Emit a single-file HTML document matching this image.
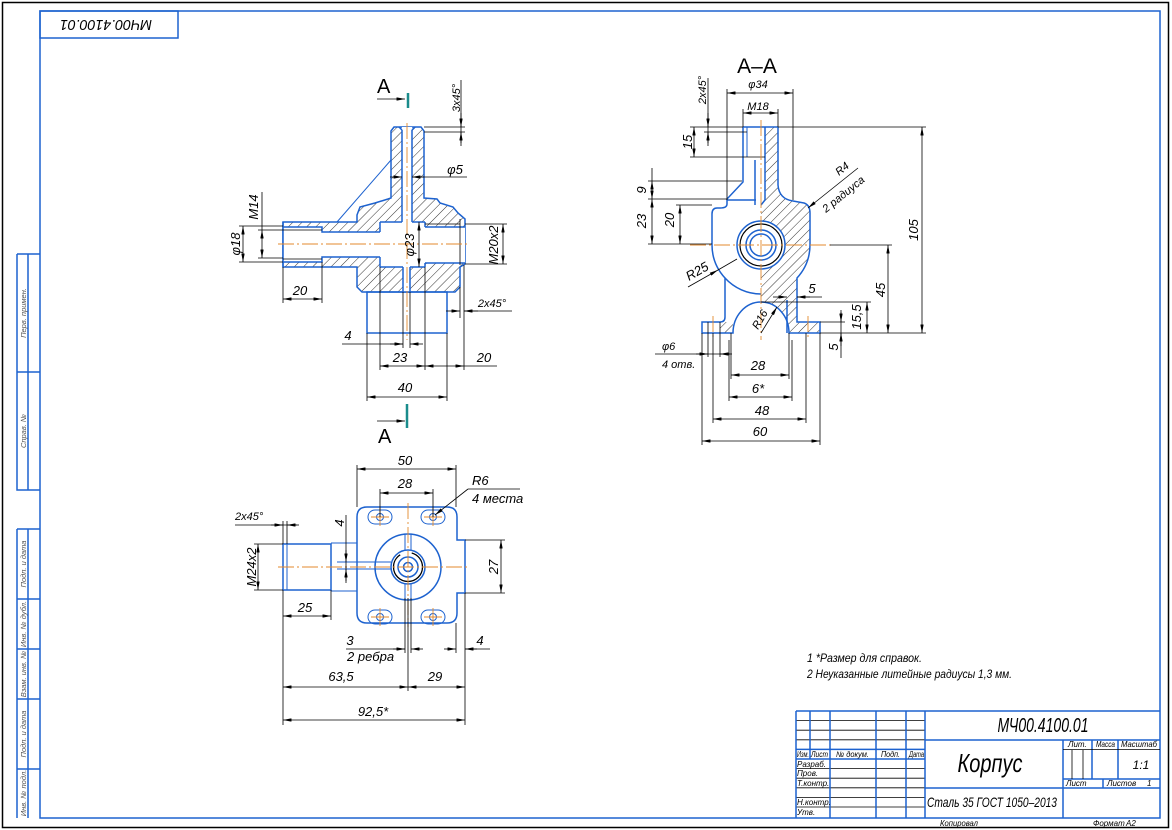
<!DOCTYPE html>
<html><head><meta charset="utf-8">
<style>
html,body{margin:0;padding:0;background:#fff;}
svg{display:block;}
.o{fill:none;stroke:#1d62cf;stroke-width:1.5;}
.ot{fill:none;stroke:#1d62cf;stroke-width:1;}
.d{fill:none;stroke:#000;stroke-width:0.8;}
.c{fill:none;stroke:#e3892d;stroke-width:0.9;stroke-dasharray:16 3 2 3;}
text{font-family:"Liberation Sans",sans-serif;font-style:italic;fill:#000;}
.up{font-style:normal;}
.t{font-size:13px;}
.s{font-size:11px;}
.x{font-size:8px;}
.g{font-size:7.5px;fill:#555;}
</style></head><body>
<svg width="1172" height="830" viewBox="0 0 1172 830" xmlns="http://www.w3.org/2000/svg">
<defs>
<pattern id="h" patternUnits="userSpaceOnUse" width="6.5" height="6.5" patternTransform="rotate(45)"><line x1="0" y1="0" x2="0" y2="6.5" stroke="#000" stroke-width="0.8"/></pattern>
<marker id="ar" viewBox="0 0 10 4" refX="10" refY="2" markerWidth="9" markerHeight="3.4" markerUnits="userSpaceOnUse" orient="auto-start-reverse"><path d="M0,0 L10,2 L0,4 z" fill="#000"/></marker>
</defs>
<rect x="0" y="0" width="1172" height="830" fill="#fff"/>

<!-- Frames -->
<rect x="2.5" y="2.5" width="1166" height="825" fill="none" stroke="#000" stroke-width="1.5"/>
<rect x="40" y="11" width="1120" height="807" class="o"/>
<rect x="40" y="11" width="138" height="27" class="o"/>
<text transform="rotate(180 106 26)" x="106" y="32" text-anchor="middle" font-size="15" textLength="92" lengthAdjust="spacingAndGlyphs">МЧ00.4100.01</text>

<!-- Left strip -->
<path class="o" d="M17,254 H40 M17,254 V490 H40 M28,254 V490 M17,372 H40"/>
<path class="o" d="M17,529 H40 M17,529 V818 M28,529 V818 M17,599 H40 M17,649 H40 M17,699 H40 M17,769 H40"/>
<text class="g" transform="translate(26,313) rotate(-90)" text-anchor="middle">Перв. примен.</text>
<text class="g" transform="translate(26,431) rotate(-90)" text-anchor="middle">Справ. №</text>
<text class="g" transform="translate(26,564) rotate(-90)" text-anchor="middle">Подп. и дата</text>
<text class="g" transform="translate(26,624) rotate(-90)" text-anchor="middle">Инв. № дубл.</text>
<text class="g" transform="translate(26,674) rotate(-90)" text-anchor="middle">Взам. инв. №</text>
<text class="g" transform="translate(26,734) rotate(-90)" text-anchor="middle">Подп. и дата</text>
<text class="g" transform="translate(26,793) rotate(-90)" text-anchor="middle">Инв. № подл.</text>

<!-- ================= FRONT VIEW ================= -->
<path d="M391,131 L394,127 L421,127 L424,131 L424,198 L437,199 L440,203 L453,207 L458,213 L465,219 L465,264 L460,267 L460,287 L455,292 L362,292 L357,287 L357,267 L283,267 L283,222 L357,222 L357,215 L360,207 L375,203 L388,199 L391,198 Z" fill="url(#h)" stroke="#1d62cf" stroke-width="1.5"/>
<rect x="402" y="127" width="10" height="95" fill="#fff"/>
<rect x="380" y="222" width="45" height="45" fill="#fff"/>
<rect x="425" y="227" width="40" height="36" fill="#fff"/>
<rect x="283" y="227" width="39" height="35" fill="#fff"/>
<rect x="322" y="232" width="58" height="25" fill="#fff"/>
<rect x="403" y="267" width="7" height="25" fill="#fff"/>
<path class="o" d="M402,130 V222 M412,130 V222 M399,127 L402,130 M415,127 L412,130 M380,222 H402 M412,222 H425 M380,267 H403 M410,267 H425 M380,222 V232 M380,257 V267 M425,222 V227 M425,263 V267 M425,227 H465 M425,263 H465 M283,227 H322 V232 H380 M283,262 H322 V257 H380 M403,267 V292 M410,267 V292 M283,222 V267"/>
<path class="d" d="M283,230 H322 M283,259 H322 M425,224 H460 M460,219 V265"/>
<rect class="o" x="367" y="292" width="80" height="41"/>
<line class="ot" x1="337" y1="222" x2="391" y2="160"/>
<path class="c" d="M278,244 H468 M407,123 V340"/>
<!-- section markers -->
<line x1="408" y1="93" x2="408" y2="108" stroke="#1a8c8c" stroke-width="2.5"/>
<line class="d" x1="377" y1="99" x2="405" y2="99" marker-end="url(#ar)"/>
<text class="up" x="377" y="93" font-size="20">A</text>
<line x1="407" y1="404" x2="407" y2="428" stroke="#1a8c8c" stroke-width="2.5"/>
<line class="d" x1="377" y1="421" x2="405" y2="421" marker-end="url(#ar)"/>
<text class="up" x="378" y="443" font-size="20">A</text>
<!-- dims front -->
<path class="d" d="M424,127 H465 M424,132 H465 M461,80 V143"/>
<line class="d" x1="461" y1="113" x2="461" y2="127" marker-end="url(#ar)"/>
<line class="d" x1="461" y1="146" x2="461" y2="132" marker-end="url(#ar)"/>
<text class="s" transform="translate(460,98) rotate(-90)" text-anchor="middle">3x45°</text>
<path class="d" d="M412,177 H467"/>
<line class="d" x1="390" y1="177" x2="402" y2="177" marker-end="url(#ar)"/>
<line class="d" x1="424" y1="177" x2="412" y2="177" marker-end="url(#ar)"/>
<text class="t" x="455" y="174" text-anchor="middle">φ5</text>
<path class="d" d="M262,192 V230 M258,230 H283 M258,258 H283"/>
<line class="d" x1="262" y1="230" x2="262" y2="258" marker-start="url(#ar)" marker-end="url(#ar)"/>
<text class="t" transform="translate(258,207) rotate(-90)" text-anchor="middle">M14</text>
<path class="d" d="M239,226 H283 M239,262 H283"/>
<line class="d" x1="243" y1="226" x2="243" y2="262" marker-start="url(#ar)" marker-end="url(#ar)"/>
<text class="t" transform="translate(240,244) rotate(-90)" text-anchor="middle">φ18</text>
<path class="d" d="M283,267 V303 M322,262 V303"/>
<line class="d" x1="283" y1="299" x2="322" y2="299" marker-start="url(#ar)" marker-end="url(#ar)"/>
<text class="t" x="300" y="295" text-anchor="middle">20</text>
<line class="d" x1="419" y1="222" x2="419" y2="267" marker-start="url(#ar)" marker-end="url(#ar)"/>
<text class="t" transform="translate(414,245) rotate(-90)" text-anchor="middle">φ23</text>
<path class="d" d="M465,224 H507 M465,264 H507"/>
<line class="d" x1="503" y1="224" x2="503" y2="264" marker-start="url(#ar)" marker-end="url(#ar)"/>
<text class="t" transform="translate(498,245) rotate(-90)" text-anchor="middle">M20x2</text>
<path class="d" d="M460,287 V318 M464,265 V370 M464,311 H512"/>
<line class="d" x1="446" y1="311" x2="460" y2="311" marker-end="url(#ar)"/>
<line class="d" x1="478" y1="311" x2="464" y2="311" marker-end="url(#ar)"/>
<text class="s" x="492" y="307" text-anchor="middle">2x45°</text>
<path class="d" d="M403,292 V348 M410,292 V348 M342,344 H403"/>
<line class="d" x1="390" y1="344" x2="403" y2="344" marker-end="url(#ar)"/>
<line class="d" x1="423" y1="344" x2="410" y2="344" marker-end="url(#ar)"/>
<text class="t" x="348" y="340" text-anchor="middle">4</text>
<path class="d" d="M380,267 V370 M425,267 V370"/>
<line class="d" x1="380" y1="366" x2="425" y2="366" marker-start="url(#ar)" marker-end="url(#ar)"/>
<text class="t" x="400" y="362" text-anchor="middle">23</text>
<line class="d" x1="425" y1="366" x2="464" y2="366" marker-start="url(#ar)" marker-end="url(#ar)"/>
<path class="d" d="M464,366 H497"/>
<text class="t" x="484" y="362" text-anchor="middle">20</text>
<path class="d" d="M367,333 V401 M447,333 V401"/>
<line class="d" x1="367" y1="397" x2="447" y2="397" marker-start="url(#ar)" marker-end="url(#ar)"/>
<text class="t" x="405" y="392" text-anchor="middle">40</text>

<!-- ================= SECTION A-A ================= -->
<text class="up" x="757" y="73" font-size="21" text-anchor="middle">A–A</text>
<path d="M765,127 L778,127 L778,185 Q779,199 793,201 L804,203 Q810,205 810,213 L810,245 A49,49 0 0 1 797,278 L797,322 L820,322 L820,333 L789,333 A28,31 0 0 0 761,302 L761,205 L765,200 Z" fill="url(#h)"/>
<rect x="720" y="322" width="13" height="11" fill="url(#h)"/>
<circle cx="761" cy="245" r="24" fill="#fff"/>
<path class="o" d="M743,127 H778 M743,127 V182 L727,199 V204 Q727,208 720,208 H717 Q712,208 712,214 V245 A49,49 0 0 0 725,278 V317 Q725,322 720,322 H702 V333 H733 A28,31 0 0 1 789,333 H820 V322 H797 V278 A49,49 0 0 0 810,245 V213 Q810,205 804,203 L793,201 Q779,199 778,185 V127"/>
<path class="o" d="M725,278 A49,49 0 0 0 761,294 M765,127 V200 L761,205 M755,160 V205 M727,200 H756 M787,300 V333"/>
<path class="ot" d="M747,127 V157"/>
<path class="d" d="M743,157 H765"/>
<circle cx="761" cy="245" r="24" class="o"/>
<circle cx="761" cy="245" r="21" fill="none" stroke="#000" stroke-width="1.2"/>
<circle cx="761" cy="245" r="15" class="o"/>
<circle cx="761" cy="245" r="11" class="o"/>
<path class="d" d="M708,322 V357 M720,322 V357"/>
<path class="c" d="M761,120 V340 M690,245 H832 M713,316 V338 M808,316 V338"/>
<!-- dims A-A -->
<path class="d" d="M727,89 V200 M793,89 V200"/>
<line class="d" x1="727" y1="93" x2="793" y2="93" marker-start="url(#ar)" marker-end="url(#ar)"/>
<text class="s" x="758" y="88" text-anchor="middle">φ34</text>
<path class="d" d="M743,109 V127 M778,109 V127"/>
<line class="d" x1="743" y1="113" x2="778" y2="113" marker-start="url(#ar)" marker-end="url(#ar)"/>
<text class="s" x="758" y="110" text-anchor="middle">M18</text>
<path class="d" d="M708,78 V143 M704,127 H743 M704,132 H747"/>
<line class="d" x1="708" y1="113" x2="708" y2="127" marker-end="url(#ar)"/>
<line class="d" x1="708" y1="146" x2="708" y2="132" marker-end="url(#ar)"/>
<text class="s" transform="translate(706,90) rotate(-90)" text-anchor="middle">2x45°</text>
<path class="d" d="M690,127 H704 M690,157 H743"/>
<line class="d" x1="694" y1="127" x2="694" y2="157" marker-start="url(#ar)" marker-end="url(#ar)"/>
<text class="t" transform="translate(692,142) rotate(-90)" text-anchor="middle">15</text>
<path class="d" d="M648,181 H742 M648,199 H727 M676,205 H712 M648,244 H712 M652,168 V181"/>
<line class="d" x1="652" y1="181" x2="652" y2="199" marker-start="url(#ar)" marker-end="url(#ar)"/>
<line class="d" x1="652" y1="199" x2="652" y2="244" marker-start="url(#ar)" marker-end="url(#ar)"/>
<text class="t" transform="translate(646,190) rotate(-90)" text-anchor="middle">9</text>
<text class="t" transform="translate(646,221) rotate(-90)" text-anchor="middle">23</text>
<line class="d" x1="680" y1="205" x2="680" y2="244" marker-start="url(#ar)" marker-end="url(#ar)"/>
<text class="t" transform="translate(674,220) rotate(-90)" text-anchor="middle">20</text>
<line class="d" x1="858" y1="168" x2="808" y2="208" marker-end="url(#ar)"/>
<text class="s" transform="translate(839,176) rotate(-39)">R4</text>
<text class="s" transform="translate(826,213) rotate(-39)">2 радиуса</text>
<line class="d" x1="688" y1="287" x2="718" y2="270" marker-end="url(#ar)"/>
<line class="d" x1="718" y1="270" x2="737" y2="259"/>
<text class="t" transform="translate(689,281) rotate(-30)">R25</text>
<line class="d" x1="761" y1="333" x2="777" y2="307" marker-end="url(#ar)"/>
<text class="s" transform="translate(758,330) rotate(-60)">R16</text>
<path class="d" d="M797,297 H822"/>
<line class="d" x1="773" y1="297" x2="787" y2="297" marker-end="url(#ar)"/>
<line class="d" x1="810" y1="297" x2="797" y2="297" marker-end="url(#ar)"/>
<text class="t" x="812" y="293" text-anchor="middle">5</text>
<path class="d" d="M761,302 H871"/>
<line class="d" x1="867" y1="302" x2="867" y2="333" marker-start="url(#ar)" marker-end="url(#ar)"/>
<text class="t" transform="translate(861,317) rotate(-90)" text-anchor="middle">15,5</text>
<path class="d" d="M830,245 H892"/>
<line class="d" x1="888" y1="245" x2="888" y2="333" marker-start="url(#ar)" marker-end="url(#ar)"/>
<text class="t" transform="translate(885,290) rotate(-90)" text-anchor="middle">45</text>
<path class="d" d="M778,127 H926 M820,333 H926"/>
<line class="d" x1="922" y1="127" x2="922" y2="333" marker-start="url(#ar)" marker-end="url(#ar)"/>
<text class="t" transform="translate(918,230) rotate(-90)" text-anchor="middle">105</text>
<path class="d" d="M820,322 H845 M841,312 V358"/>
<line class="d" x1="841" y1="310" x2="841" y2="322" marker-end="url(#ar)"/>
<line class="d" x1="841" y1="346" x2="841" y2="333" marker-end="url(#ar)"/>
<text class="t" transform="translate(838,347) rotate(-90)" text-anchor="middle">5</text>
<path class="d" d="M655,354 H730"/>
<line class="d" x1="696" y1="354" x2="708" y2="354" marker-end="url(#ar)"/>
<line class="d" x1="732" y1="354" x2="720" y2="354" marker-end="url(#ar)"/>
<text class="s" x="662" y="350">φ6</text>
<text class="s" x="662" y="368">4 отв.</text>
<path class="d" d="M731,333 V379 M789,333 V379 M729,340 V401 M792,340 V401 M713,333 V423 M806,333 V423 M702,333 V445 M820,333 V445"/>
<line class="d" x1="731" y1="375" x2="789" y2="375" marker-start="url(#ar)" marker-end="url(#ar)"/>
<text class="t" x="758" y="370" text-anchor="middle">28</text>
<line class="d" x1="729" y1="397" x2="792" y2="397" marker-start="url(#ar)" marker-end="url(#ar)"/>
<text class="t" x="758" y="393" text-anchor="middle">6*</text>
<line class="d" x1="713" y1="419" x2="806" y2="419" marker-start="url(#ar)" marker-end="url(#ar)"/>
<text class="t" x="762" y="415" text-anchor="middle">48</text>
<line class="d" x1="702" y1="441" x2="820" y2="441" marker-start="url(#ar)" marker-end="url(#ar)"/>
<text class="t" x="760" y="436" text-anchor="middle">60</text>

<!-- ================= BOTTOM VIEW ================= -->
<path class="o" d="M367,507 H447 Q457,507 457,517 V540 H465 V593 H457 V613 Q457,623 447,623 H367 Q357,623 357,613 V517 Q357,507 367,507 Z"/>
<rect class="ot" x="368" y="510" width="24" height="14" rx="7"/>
<rect class="ot" x="421" y="510" width="24" height="14" rx="7"/>
<rect class="ot" x="368" y="610" width="24" height="14" rx="7"/>
<rect class="ot" x="421" y="610" width="24" height="14" rx="7"/>
<circle class="ot" cx="380" cy="517" r="3.5"/>
<circle class="ot" cx="433" cy="517" r="3.5"/>
<circle class="ot" cx="380" cy="617" r="3.5"/>
<circle class="ot" cx="433" cy="617" r="3.5"/>
<circle class="o" cx="408" cy="567" r="33"/>
<circle class="o" cx="408" cy="567" r="17"/>
<circle cx="408" cy="567" r="14.5" fill="none" stroke="#000" stroke-width="1.3" stroke-dasharray="60 12"/>
<circle class="o" cx="408" cy="567" r="10"/>
<circle class="o" cx="408" cy="567" r="4.5"/>
<path class="ot" d="M405,534 V550 M411,534 V550 M405,584 V600 M411,584 V600 M337,562 H391 M337,569 H391"/>
<rect class="o" x="283" y="544" width="48" height="46"/>
<path class="ot" d="M287,544 V590 M331,543 H357 M331,591 H357"/>
<path class="c" d="M278,567 H468 M408,503 V627"/>
<path class="c" style="stroke-dasharray:none" d="M371,517 H389 M380,508 V526 M424,517 H442 M433,508 V526 M371,617 H389 M380,608 V626 M424,617 H442 M433,608 V626"/>
<!-- dims bottom -->
<path class="d" d="M357,465 V507 M456,465 V507"/>
<line class="d" x1="357" y1="469" x2="456" y2="469" marker-start="url(#ar)" marker-end="url(#ar)"/>
<text class="t" x="405" y="465" text-anchor="middle">50</text>
<path class="d" d="M380,489 V517 M433,489 V517"/>
<line class="d" x1="380" y1="493" x2="433" y2="493" marker-start="url(#ar)" marker-end="url(#ar)"/>
<text class="t" x="405" y="488" text-anchor="middle">28</text>
<path class="d" d="M468,489 H520"/>
<line class="d" x1="468" y1="489" x2="435" y2="515" marker-end="url(#ar)"/>
<text class="t" x="472" y="485">R6</text>
<text class="t" x="472" y="503">4 места</text>
<path class="d" d="M235,525 H297 M283,521 V544 M287,521 V544"/>
<line class="d" x1="271" y1="525" x2="283" y2="525" marker-end="url(#ar)"/>
<line class="d" x1="299" y1="525" x2="287" y2="525" marker-end="url(#ar)"/>
<text class="s" x="235" y="520">2x45°</text>
<path class="d" d="M254,544 H283 M254,590 H283"/>
<line class="d" x1="258" y1="544" x2="258" y2="590" marker-start="url(#ar)" marker-end="url(#ar)"/>
<text class="t" transform="translate(256,567) rotate(-90)" text-anchor="middle">M24x2</text>
<path class="d" d="M346,515 V583"/>
<line class="d" x1="346" y1="550" x2="346" y2="562" marker-end="url(#ar)"/>
<line class="d" x1="346" y1="581" x2="346" y2="569" marker-end="url(#ar)"/>
<text class="t" transform="translate(344,523) rotate(-90)" text-anchor="middle">4</text>
<path class="d" d="M331,590 V620"/>
<line class="d" x1="283" y1="616" x2="331" y2="616" marker-start="url(#ar)" marker-end="url(#ar)"/>
<text class="t" x="305" y="612" text-anchor="middle">25</text>
<path class="d" d="M465,540 H505 M465,593 H505"/>
<line class="d" x1="501" y1="540" x2="501" y2="593" marker-start="url(#ar)" marker-end="url(#ar)"/>
<text class="t" transform="translate(498,567) rotate(-90)" text-anchor="middle">27</text>
<path class="d" d="M405,598 V653 M411,598 V653 M346,649 H405"/>
<line class="d" x1="393" y1="649" x2="405" y2="649" marker-end="url(#ar)"/>
<line class="d" x1="423" y1="649" x2="411" y2="649" marker-end="url(#ar)"/>
<text class="t" x="350" y="645" text-anchor="middle">3</text>
<text class="t" x="347" y="661">2 ребра</text>
<path class="d" d="M456,623 V653 M465,593 V725 M465,649 H490"/>
<line class="d" x1="444" y1="649" x2="456" y2="649" marker-end="url(#ar)"/>
<line class="d" x1="477" y1="649" x2="465" y2="649" marker-end="url(#ar)"/>
<text class="t" x="480" y="645" text-anchor="middle">4</text>
<path class="d" d="M283,590 V725 M408,598 V691"/>
<line class="d" x1="283" y1="687" x2="408" y2="687" marker-start="url(#ar)" marker-end="url(#ar)"/>
<line class="d" x1="408" y1="687" x2="465" y2="687" marker-start="url(#ar)" marker-end="url(#ar)"/>
<text class="t" x="341" y="681" text-anchor="middle">63,5</text>
<text class="t" x="435" y="681" text-anchor="middle">29</text>
<line class="d" x1="283" y1="720" x2="465" y2="720" marker-start="url(#ar)" marker-end="url(#ar)"/>
<text class="t" x="373" y="716" text-anchor="middle">92,5*</text>

<!-- Notes -->
<text x="807" y="662" font-size="12" textLength="115" lengthAdjust="spacingAndGlyphs">1 *Размер для справок.</text>
<text x="807" y="678" font-size="12" textLength="205" lengthAdjust="spacingAndGlyphs">2 Неуказанные литейные радиусы 1,3 мм.</text>

<!-- ================= TITLE BLOCK ================= -->
<path class="d" d="M796,720.6 H925 M796,730.2 H925 M796,739.8 H925 M796,768.6 H925 M796,778.2 H925 M796,787.8 H925 M796,797.4 H925 M796,807 H925"/>
<path class="o" d="M796,711 H1160 M796,711 V818 M796,749.4 H925 M796,759 H925 M810,711 V759 M830,711 V818 M876,711 V818 M906,711 V818 M925,711 V818 M925,740 H1160 M925,788 H1160 M1063,740 V818 M1092,740 V779 M1118,740 V779 M1063,779 H1160 M1103,779 V788"/>
<path class="d" d="M1063,749.6 H1160 M1072,749.6 V779 M1083,749.6 V779"/>
<text class="x" x="797" y="757" textLength="12" lengthAdjust="spacingAndGlyphs">Изм.</text>
<text class="x" x="811" y="757" textLength="17" lengthAdjust="spacingAndGlyphs">Лист</text>
<text class="x" x="836" y="757" textLength="33" lengthAdjust="spacingAndGlyphs">№ докум.</text>
<text class="x" x="881" y="757" textLength="19" lengthAdjust="spacingAndGlyphs">Подп.</text>
<text class="x" x="909" y="757" textLength="15" lengthAdjust="spacingAndGlyphs">Дата</text>
<text class="x" x="797" y="767">Разраб.</text>
<text class="x" x="797" y="776">Пров.</text>
<text class="x" x="797" y="786">Т.контр.</text>
<text class="x" x="797" y="805">Н.контр.</text>
<text class="x" x="797" y="815">Утв.</text>
<text x="1043" y="732" font-size="20" text-anchor="middle" textLength="91" lengthAdjust="spacingAndGlyphs">МЧ00.4100.01</text>
<text x="990" y="772" font-size="26" text-anchor="middle" textLength="65" lengthAdjust="spacingAndGlyphs">Корпус</text>
<text x="927" y="807" font-size="14" textLength="130" lengthAdjust="spacingAndGlyphs">Сталь 35  ГОСТ 1050–2013</text>
<text class="x" x="1068" y="747">Лит.</text>
<text class="x" x="1096" y="747" textLength="19" lengthAdjust="spacingAndGlyphs">Масса</text>
<text class="x" x="1121" y="747" textLength="36" lengthAdjust="spacingAndGlyphs">Масштаб</text>
<text x="1141" y="769" font-size="12" text-anchor="middle">1:1</text>
<text class="x" x="1066" y="786">Лист</text>
<text class="x" x="1107" y="786">Листов</text>
<text class="x" x="1147" y="786">1</text>
<text class="x" x="940" y="826" textLength="38" lengthAdjust="spacingAndGlyphs">Копировал</text>
<text class="x" x="1093" y="826">Формат</text>
<text class="x" x="1126" y="826">A2</text>
</svg>
</body></html>
